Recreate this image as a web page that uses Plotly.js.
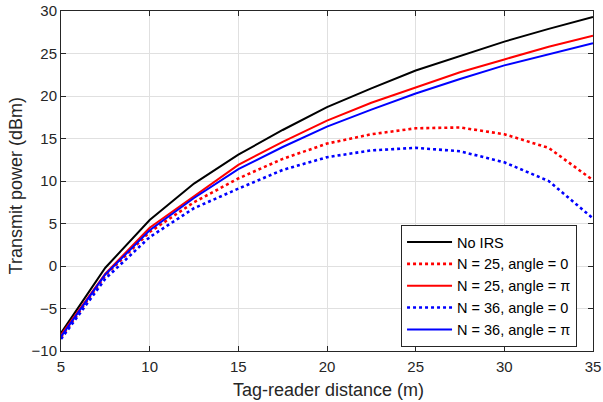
<!DOCTYPE html>
<html>
<head>
<meta charset="utf-8">
<script src="https://cdn.plot.ly/plotly-3.0.1.min.js"></script>
<style>html,body{margin:0;padding:0;background:#fff;}#chart{width:603px;height:402px;}</style>
</head>
<body>
<div id="chart"></div>
<script>
const distance = [5, 7.5, 10, 12.5, 15, 17.5, 20, 22.5, 25, 27.5, 30, 32.5, 35];
const noIRS      = [-7.9, -0.2, 5.4, 9.7, 13.1, 16.0, 18.7, 20.9, 23.0, 24.7, 26.4, 27.9, 29.3];
const n25angle0  = [-8.4, -1.1, 4.0, 7.5, 10.3, 12.6, 14.4, 15.5, 16.2, 16.3, 15.5, 13.9, 10.1];
const n25anglePi = [-8.1, -0.9, 4.5, 8.2, 11.9, 14.6, 17.1, 19.2, 21.0, 22.8, 24.3, 25.8, 27.1];
const n36angle0  = [-8.6, -1.5, 3.4, 6.8, 9.1, 11.3, 12.8, 13.6, 13.9, 13.5, 12.2, 10.0, 5.6];
const n36anglePi = [-8.3, -1.0, 4.2, 8.0, 11.4, 14.0, 16.4, 18.4, 20.3, 22.0, 23.6, 24.9, 26.2];
const seriesNames = ["No IRS", "N = 25, angle = 0", "N = 25, angle = π", "N = 36, angle = 0", "N = 36, angle = π"];
const xTicks = [5, 10, 15, 20, 25, 30, 35];
const yTicks = [-10, -5, 0, 5, 10, 15, 20, 25, 30];
const xTitle = 'Tag-reader distance (m)';
const yTitle = 'Transmit power (dBm)';

const mk = (y, name, color, dash) => ({
  x: distance, y: y, name: name, type: 'scatter', mode: 'lines',
  line: {color: color, width: dash === 'dot' ? 2.6 : 2, dash: dash}
});
const data = [
  mk(noIRS, seriesNames[0], '#000000', 'solid'),
  mk(n25angle0, seriesNames[1], '#ff0000', 'dot'),
  mk(n25anglePi, seriesNames[2], '#ff0000', 'solid'),
  mk(n36angle0, seriesNames[3], '#0000ff', 'dot'),
  mk(n36anglePi, seriesNames[4], '#0000ff', 'solid')
];
const fontFam = 'Liberation Sans, Arial, sans-serif';
const axisCommon = {
  showline: true, linecolor: '#262626', linewidth: 1, mirror: 'ticks',
  ticks: 'inside', ticklen: 5, tickcolor: '#262626',
  showgrid: true, gridcolor: '#e0e0e0', gridwidth: 1, zeroline: false,
  tickfont: {family: fontFam, size: 15, color: '#262626'}
};
const titleFont = {family: fontFam, size: 18, color: '#262626'};
const layout = {
  width: 603, height: 402,
  margin: {l: 61, r: 10, t: 11, b: 51},
  paper_bgcolor: '#ffffff', plot_bgcolor: '#ffffff',
  showlegend: true,
  xaxis: Object.assign({}, axisCommon, {
    range: [5, 35], tickvals: xTicks, ticklabelstandoff: 2
  }),
  yaxis: Object.assign({}, axisCommon, {
    range: [-10, 30], tickvals: yTicks
  }),
  annotations: [
    {text: xTitle, xref: 'paper', yref: 'paper', x: 0.502, y: -0.1147,
     xanchor: 'center', yanchor: 'middle', showarrow: false, font: titleFont},
    {text: yTitle, xref: 'paper', yref: 'paper', x: -0.0846, y: 0.487, textangle: -90,
     xanchor: 'center', yanchor: 'middle', showarrow: false, font: titleFont}
  ],
  legend: {
    x: 0.970, y: 0.191, xanchor: 'right', yanchor: 'middle',
    bgcolor: '#ffffff', bordercolor: '#262626', borderwidth: 1,
    font: {family: fontFam, size: 14.5, color: '#000000'},
    itemwidth: 45, tracegroupgap: 0
  }
};
Plotly.newPlot('chart', data, layout, {displayModeBar: false, staticPlot: true});
</script>
</body>
</html>
